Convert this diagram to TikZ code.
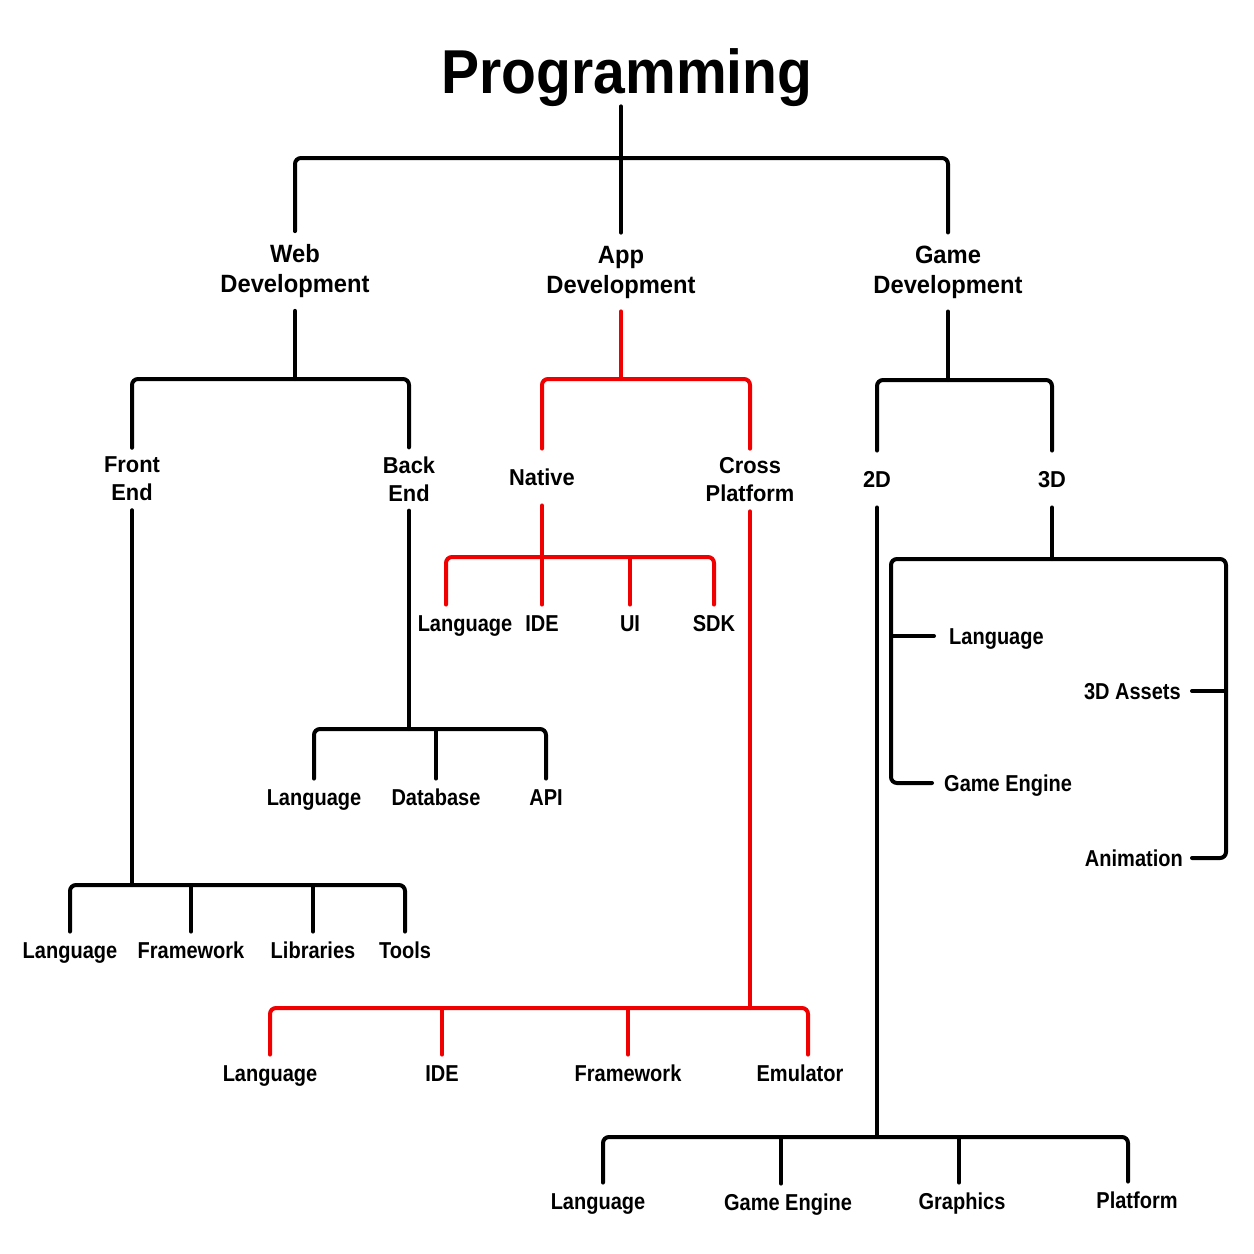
\documentclass[tikz,border=0pt]{standalone}
\usepackage{fontspec}
\setmainfont{Liberation Sans}
\newfontfamily\titlefont[FakeStretch=0.92]{Liberation Sans}
\newfontfamily\midfont[FakeStretch=0.95]{Liberation Sans}
\newfontfamily\leaffont[FakeStretch=0.87]{Liberation Sans}
\definecolor{appred}{RGB}{240,0,0}
\begin{document}
\begin{tikzpicture}[x=1pt,y=-1pt,
  bk/.style={line width=4pt, draw=black, rounded corners=6pt, line cap=round},
  rd/.style={bk, draw=appred},
  titlelbl/.style={font={\titlefont\bfseries\fontsize{62pt}{70pt}\selectfont}, inner sep=0pt, anchor=base},
  lvlone/.style={align=center, font={\midfont\bfseries\fontsize{25pt}{30pt}\selectfont}, inner xsep=2pt, inner ysep=13pt},
  midtwo/.style={align=center, font={\midfont\bfseries\fontsize{23pt}{28pt}\selectfont}, inner xsep=2pt, inner ysep=9pt},
  midone/.style={font={\midfont\bfseries\fontsize{23pt}{28pt}\selectfont}, text height=16.5pt, text depth=0pt, inner xsep=2pt, inner ysep=20pt},
  leaf/.style={font={\leaffont\bfseries\fontsize{23pt}{27pt}\selectfont}, text height=16.5pt, text depth=0pt, inner xsep=2pt, inner ysep=10pt}
]
\useasboundingbox[fill=white] (0,0) rectangle (1254,1254);

% ---- nodes ----
\node[titlelbl] (title) at (627,93) {Programming};

\node[lvlone] (web)  at (295,271) {Web\\Development};
\node[lvlone] (app)  at (621,272) {App\\Development};
\node[lvlone] (game) at (948,272) {Game\\Development};

\node[midtwo] (fe)    at (132,479) {Front\\End};
\node[midtwo] (be)    at (409,479) {Back\\End};
\node[midone] (nat)   at (542,477) {Native};
\node[midtwo] (cross) at (750,480) {Cross\\Platform};
\node[midone] (d2)    at (877,479) {2D};
\node[midone] (d3)    at (1052,479) {3D};

% front end leaves
\node[leaf] (fl1) at (70,950)  {Language};
\node[leaf] (fl2) at (191,950) {Framework};
\node[leaf] (fl3) at (313,950) {Libraries};
\node[leaf] (fl4) at (405,950) {Tools};
% back end leaves
\node[leaf] (bl1) at (314,797) {Language};
\node[leaf] (bl2) at (436,797) {Database};
\node[leaf] (bl3) at (546,797) {API};
% native leaves
\node[leaf] (nl1) at (465,623) {Language};
\node[leaf] (nl2) at (542,623) {IDE};
\node[leaf] (nl3) at (630,623) {UI};
\node[leaf] (nl4) at (714,623) {SDK};
% cross platform leaves
\node[leaf] (cl1) at (270,1073) {Language};
\node[leaf] (cl2) at (442,1073) {IDE};
\node[leaf] (cl3) at (628,1073) {Framework};
\node[leaf] (cl4) at (800,1073) {Emulator};
% 2D leaves
\node[leaf] (tl1) at (598,1201) {Language};
\node[leaf] (tl2) at (788,1202) {Game Engine};
\node[leaf] (tl3) at (962,1201) {Graphics};
\node[leaf] (tl4) at (1137,1200) {Platform};
% 3D leaves
\node[leaf, anchor=west, inner xsep=0pt] (sl1) at (949,636) {Language};
\node[leaf, anchor=east, inner xsep=0pt] (sl2) at (1181,691) {3D Assets};
\node[leaf, anchor=west, inner xsep=0pt] (sl3) at (944,783) {Game Engine};
\node[leaf, anchor=east, inner xsep=0pt] (sl4) at (1183,858) {Animation};

% ---- junctions ----
\coordinate (j0)  at (621,158);
\coordinate (jw)  at (295,379);
\coordinate (jfe) at (132,885);
\coordinate (jbe) at (409,729);
\coordinate (ja)  at (621,379);
\coordinate (jn)  at (542,557);
\coordinate (jc)  at (750,1008);
\coordinate (jg)  at (948,380);
\coordinate (j2)  at (877,1137);
\coordinate (j3)  at (1052,559);
\coordinate (c3l) at (891,559);
\coordinate (c3r) at (1226,559);

% ---- root ----
\draw[bk] (title.south -| j0) -- (app.north);
\draw[bk] (web.north) |- (j0) -| (game.north);

% ---- web ----
\draw[bk] (web.south) -- (jw);
\draw[bk] (fe.north) |- (jw) -| (be.north);
\draw[bk] (fe.south) -- (jfe);
\draw[bk] (fl1.north) |- (jfe) -| (fl4.north);
\draw[bk] (fl2.north) -- (fl2.north |- jfe);
\draw[bk] (fl3.north) -- (fl3.north |- jfe);
\draw[bk] (be.south) -- (jbe);
\draw[bk] (bl1.north) |- (jbe) -| (bl3.north);
\draw[bk] (bl2.north) -- (bl2.north |- jbe);

% ---- app ----
\draw[rd] (app.south) -- (ja);
\draw[rd] (nat.north) |- (ja) -| (cross.north);
\draw[rd] (nat.south) -- (jn);
\draw[rd] ([xshift=-19pt]nl1.north) |- (jn) -| (nl4.north);
\draw[rd] (nl2.north) -- (nl2.north |- jn);
\draw[rd] (nl3.north) -- (nl3.north |- jn);
\draw[rd] (cross.south) -- (jc);
\draw[rd] (cl1.north) |- (jc) -| ([xshift=8pt]cl4.north);
\draw[rd] (cl2.north) -- (cl2.north |- jc);
\draw[rd] (cl3.north) -- (cl3.north |- jc);

% ---- game ----
\draw[bk] (game.south) -- (jg);
\draw[bk] (d2.north) |- (jg) -| (d3.north);
\draw[bk] (d2.south) -- (j2);
\draw[bk] ([xshift=5pt]tl1.north) |- (j2) -| ([xshift=-9pt]tl4.north);
\draw[bk] ([xshift=-7pt]tl2.north) -- ([xshift=-7pt]tl2.north |- j2);
\draw[bk] ([xshift=-3pt]tl3.north) -- ([xshift=-3pt]tl3.north |- j2);
\draw[bk] (d3.south) -- (j3);
\draw[bk] ([xshift=-12pt]sl3.west) -| (c3l) -- (c3r) |- ([xshift=9pt]sl4.east);
\draw[bk] ([xshift=-15pt]sl1.west) -- (sl1.west -| c3l);
\draw[bk] ([xshift=11pt]sl2.east) -- (sl2.east -| c3r);
\end{tikzpicture}
\end{document}
